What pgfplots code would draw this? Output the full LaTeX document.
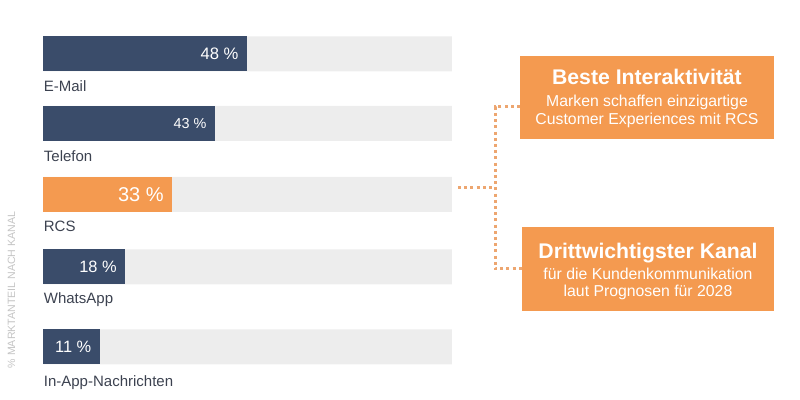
\documentclass[border=0pt]{standalone}
\usepackage{pgfplots}
\pgfplotsset{compat=1.18}
\usepackage{fontspec}
\setmainfont{Liberation Sans}
\definecolor{navy}{HTML}{3A4C6A}
\definecolor{orng}{HTML}{F49A50}
\definecolor{dotor}{HTML}{EDA670}
\definecolor{bgbar}{HTML}{EDEDED}
\definecolor{txt}{HTML}{3C4250}
\definecolor{ghost}{HTML}{C4C4C4}
\begin{document}
\begin{tikzpicture}
\begin{axis}[
  at={(0pt,0pt)}, anchor=south west,
  scale only axis, width=400pt, height=200pt,
  hide axis, clip=false,
  xmin=-10.595, xmax=185.15,
  ymin=0, ymax=400, y dir=reverse,
  bar width=35, bar shift=0pt,
  every node near coord/.append style={anchor=east, xshift=-4pt, text=white, inner sep=0pt},
]
% background bars (full scale = 100)
\addplot[xbar, bar shift=0pt, fill=bgbar, draw=none] coordinates {(100,54) (100,123.4) (100,194.5) (100,266.8) (100,346.8)};
% value bars (lengths, scale 0..100 = grey track)
\addplot[xbar, bar shift=0pt, fill=navy, draw=none, nodes near coords={48 \%},
  every node near coord/.append style={font=\fontsize{8.3}{10}\selectfont}] coordinates {(49.8,54)};
\addplot[xbar, bar shift=0pt, fill=navy, draw=none, nodes near coords={43 \%},
  every node near coord/.append style={font=\fontsize{7.2}{9}\selectfont}] coordinates {(42.0,123.4)};
\addplot[xbar, bar shift=0pt, fill=orng, draw=none, nodes near coords={33 \%},
  every node near coord/.append style={font=\fontsize{10}{12}\selectfont}] coordinates {(31.5,194.5)};
\addplot[xbar, bar shift=0pt, fill=navy, draw=none, nodes near coords={18 \%},
  every node near coord/.append style={font=\fontsize{8.2}{10}\selectfont}] coordinates {(20.0,266.8)};
\addplot[xbar, bar shift=0pt, fill=navy, draw=none, nodes near coords={11 \%},
  every node near coord/.append style={font=\fontsize{8.2}{10}\selectfont}] coordinates {(13.8,346.8)};
\end{axis}
\begin{scope}[x=0.5pt, y=-0.5pt, shift={(0pt,200pt)}]
  % category labels
  \begin{scope}[every node/.style={anchor=base west, inner sep=0pt, text=txt, font=\fontsize{7.5}{9}\selectfont}]
    \node at (43.5,91.7) {E-Mail};
    \node at (43.5,162) {Telefon};
    \node at (43.5,232) {RCS};
    \node at (43.5,304) {WhatsApp};
    \node at (43.5,386.5) {In-App-Nachrichten};
  \end{scope}
  % vertical axis caption
  \node[rotate=90, text=ghost, inner sep=0pt, font=\fontsize{5.3}{6}\selectfont] at (11.5,290) {\% MARKTANTEIL NACH KANAL};
  % dotted connectors
  \draw[dotor, line width=1.5pt, dash pattern=on 1.5pt off 1.6pt] (458,188) -- (495,188);
  \draw[dotor, line width=1.5pt, dash pattern=on 1.5pt off 1.6pt] (520,107) -- (495,107) -- (495,269) -- (522,269);
  % boxes
  \fill[orng] (520,56) rectangle (774,139);
  \fill[orng] (522,227) rectangle (774,311);
  \begin{scope}[every node/.style={anchor=base, inner sep=0pt, text=white}]
    \node[font=\bfseries\fontsize{10.6}{12}\selectfont] at (647,85) {Beste Interaktivität};
    \node[font=\fontsize{7.9}{9}\selectfont] at (647,106.7) {Marken schaffen einzigartige};
    \node[font=\fontsize{7.9}{9}\selectfont] at (647,124.3) {Customer Experiences mit RCS};
    \node[font=\bfseries\fontsize{10.6}{12}\selectfont] at (648,259) {Drittwichtigster Kanal};
    \node[font=\fontsize{7.9}{9}\selectfont] at (648,280) {für die Kundenkommunikation};
    \node[font=\fontsize{7.9}{9}\selectfont] at (648,296.7) {laut Prognosen für 2028};
  \end{scope}
\end{scope}
\pgfresetboundingbox
\path (0pt,0pt) rectangle (400pt,200pt);
\end{tikzpicture}
\end{document}
